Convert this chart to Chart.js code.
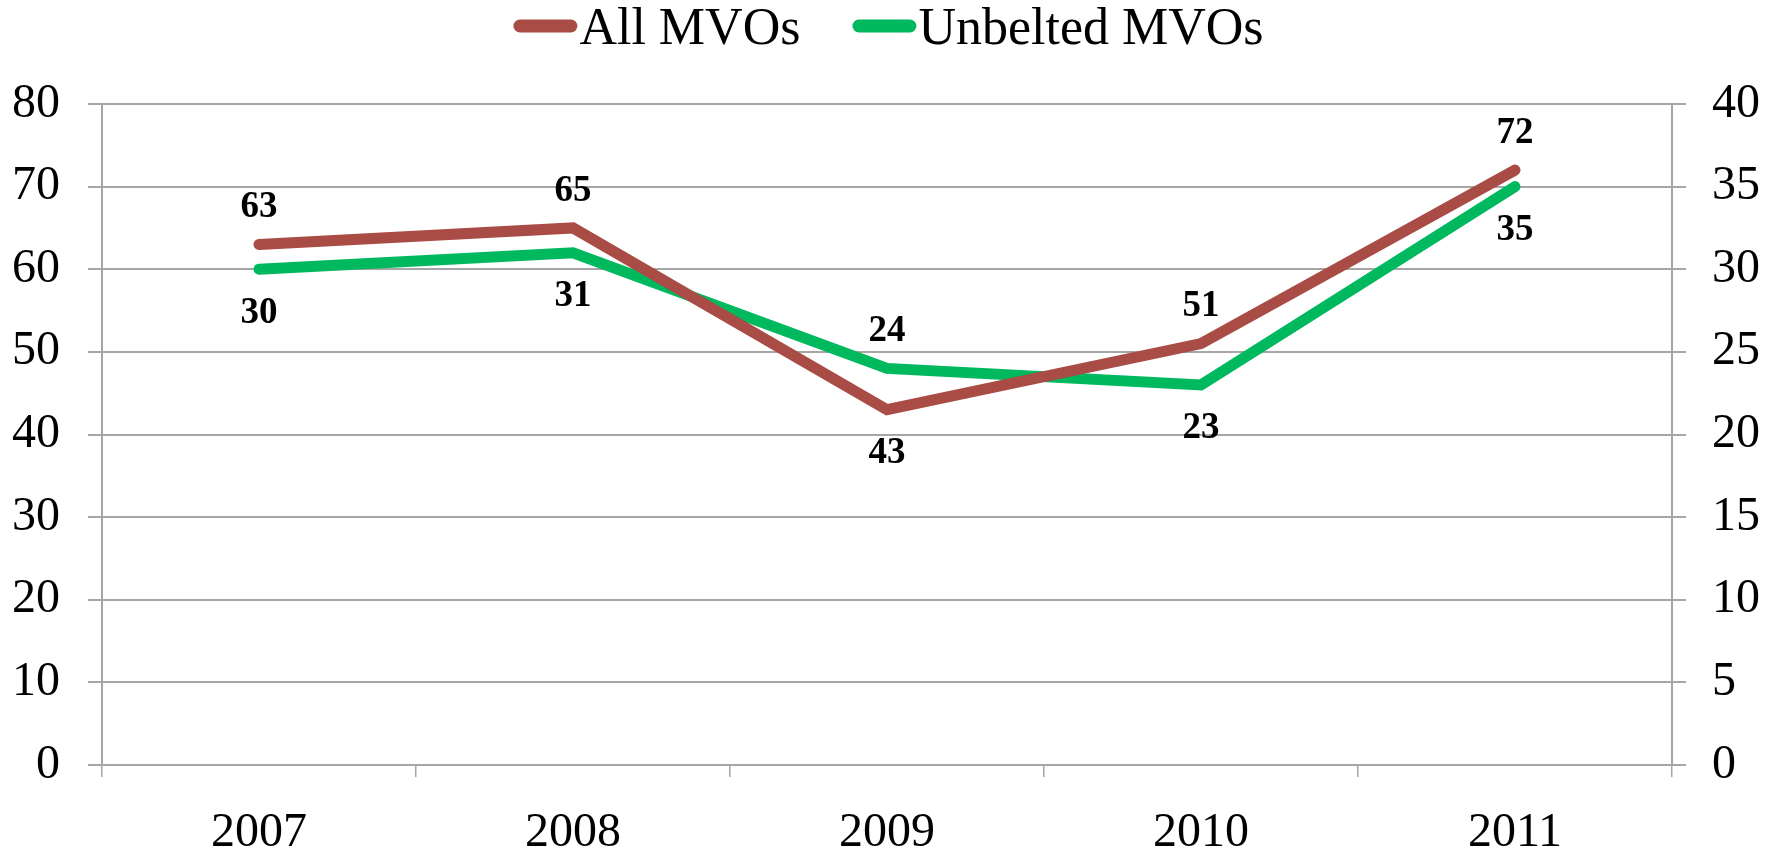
<!DOCTYPE html>
<html>
<head>
<meta charset="utf-8">
<script src="https://cdn.jsdelivr.net/npm/chart.js@4/dist/chart.umd.min.js"></script>
<style>
  html, body { margin: 0; padding: 0; background: #fff; }
  #wrap { width: 1777px; height: 856px; position: relative; }
</style>
</head>
<body>
<div id="wrap"><canvas id="chart"></canvas></div>
<script>
// data
var years = ['2007', '2008', '2009', '2010', '2011'];
var allMVOs = [63, 65, 43, 51, 72];
var unbeltedMVOs = [30, 31, 24, 23, 35];
var leftTicks = [0, 10, 20, 30, 40, 50, 60, 70, 80];
var rightTicks = [0, 5, 10, 15, 20, 25, 30, 35, 40];

// which side of the point each value label sits on
var allSides = ['above', 'above', 'below', 'above', 'above'];
var unbeltedSides = ['below', 'below', 'above', 'below', 'below'];

var serif = '"Liberation Serif", "Times New Roman", serif';
var gridGrey = '#A6A6A6';

var valueLabels = {
    id: 'valueLabels',
    afterDatasetsDraw: function(chart) {
        var ctx = chart.ctx;
        ctx.save();
        ctx.font = 'bold 37px ' + serif;
        ctx.fillStyle = '#000';
        ctx.textAlign = 'center';
        ctx.textBaseline = 'middle';
        chart.data.datasets.forEach(function(ds, i) {
            chart.getDatasetMeta(i).data.forEach(function(pt, j) {
                var dy = ds.labelSides[j] === 'above' ? -37 : 44;
                ctx.fillText(ds.data[j], pt.x, pt.y + dy);
            });
        });
        ctx.restore();
    }
};

// legend drawn by hand so the swatch sits right against the text
var lineLegend = {
    id: 'lineLegend',
    afterDraw: function(chart) {
        var ctx = chart.ctx;
        var sets = chart.data.datasets;
        var swatch = 64, gap = 2, spacing = 52, y = 26;
        ctx.save();
        ctx.font = '52px ' + serif;
        var total = 0;
        sets.forEach(function(ds, i) {
            total += swatch + gap + ctx.measureText(ds.label).width;
            if (i < sets.length - 1) total += spacing;
        });
        var x = (chart.width - total) / 2;
        sets.forEach(function(ds) {
            ctx.strokeStyle = ds.borderColor;
            ctx.lineWidth = 13;
            ctx.lineCap = 'round';
            ctx.beginPath();
            ctx.moveTo(x + 6.5, y);
            ctx.lineTo(x + swatch - 6.5, y);
            ctx.stroke();
            x += swatch + gap;
            ctx.fillStyle = '#000';
            ctx.textAlign = 'left';
            ctx.textBaseline = 'middle';
            ctx.fillText(ds.label, x, y + 4);
            x += ctx.measureText(ds.label).width + spacing;
        });
        ctx.restore();
    }
};

var ctx = document.getElementById('chart');

var chart = new Chart(ctx, {
    type: 'line',
    data: {
        labels: years,
        datasets: [
            {
                label: 'All MVOs',
                data: allMVOs,
                yAxisID: 'y',
                borderColor: '#A84C45',
                backgroundColor: '#A84C45',
                borderWidth: 11,
                borderCapStyle: 'round',
                pointRadius: 0,
                tension: 0,
                labelSides: allSides
            },
            {
                label: 'Unbelted MVOs',
                data: unbeltedMVOs,
                yAxisID: 'y1',
                borderColor: '#00B85E',
                backgroundColor: '#00B85E',
                borderWidth: 11,
                borderCapStyle: 'round',
                pointRadius: 0,
                tension: 0,
                labelSides: unbeltedSides
            }
        ]
    },
    options: {
        responsive: true,
        maintainAspectRatio: false,
        animation: false,
        layout: {
            padding: { top: 104, left: 0, right: 0, bottom: 0 }
        },
        plugins: {
            legend: { display: false },
            tooltip: { enabled: false }
        },
        scales: {
            x: {
                offset: true,
                grid: {
                    offset: true,
                    drawOnChartArea: false,
                    drawTicks: true,
                    tickLength: 12,
                    color: gridGrey,
                    lineWidth: 1.5
                },
                border: { color: gridGrey, width: 2 },
                ticks: {
                    color: '#000',
                    font: { family: serif, size: 48 },
                    padding: 28,
                    maxRotation: 0
                },
                afterFit: function(scale) { scale.height = 91; }
            },
            y: {
                position: 'left',
                min: 0,
                max: 80,
                afterBuildTicks: function(scale) {
                    scale.ticks = leftTicks.map(function(v) { return { value: v }; });
                },
                grid: {
                    color: gridGrey,
                    lineWidth: 2,
                    tickLength: 14
                },
                border: { color: gridGrey, width: 2 },
                ticks: {
                    color: '#000',
                    font: { family: serif, size: 48 },
                    padding: 28
                },
                afterFit: function(scale) { scale.width = 102; }
            },
            y1: {
                position: 'right',
                min: 0,
                max: 40,
                afterBuildTicks: function(scale) {
                    scale.ticks = rightTicks.map(function(v) { return { value: v }; });
                },
                grid: {
                    drawOnChartArea: false,
                    color: gridGrey,
                    lineWidth: 2,
                    tickLength: 14
                },
                border: { color: gridGrey, width: 2 },
                ticks: {
                    color: '#000',
                    font: { family: serif, size: 48 },
                    padding: 26
                },
                afterFit: function(scale) { scale.width = 105; }
            }
        }
    },
    plugins: [valueLabels, lineLegend]
});
</script>
</body>
</html>
